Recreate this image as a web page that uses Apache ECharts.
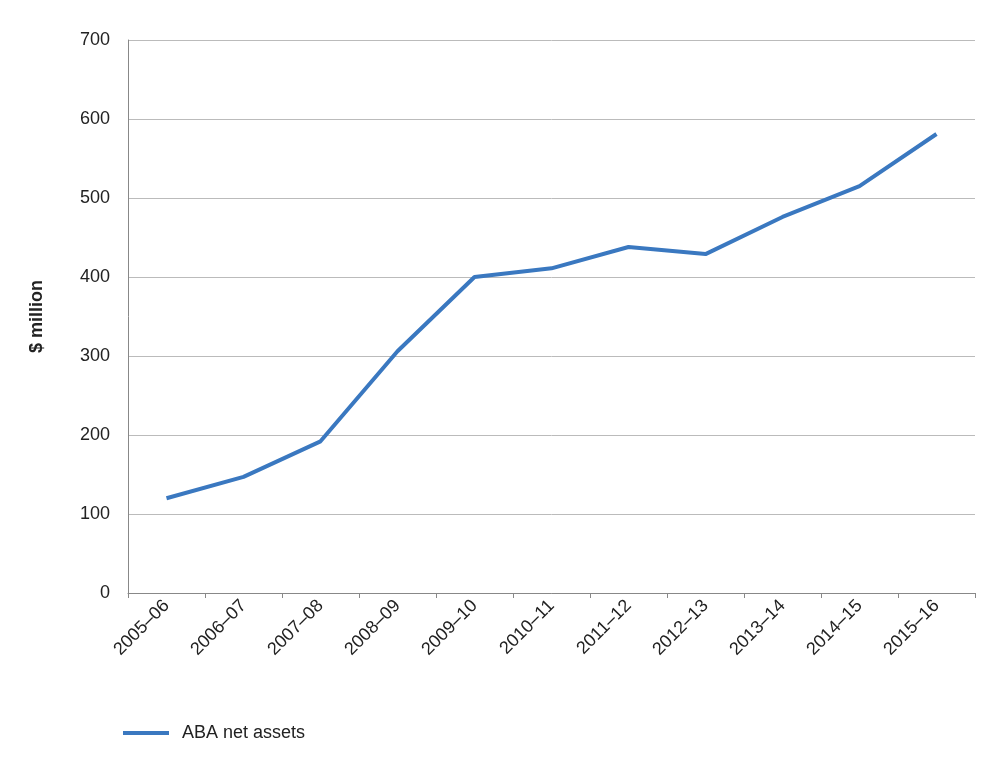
<!DOCTYPE html>
<html><head><meta charset="utf-8">
<script src="https://cdn.jsdelivr.net/npm/echarts@6/dist/echarts.min.js"></script>
<style>html,body{margin:0;padding:0;background:#fff}#c{width:1006px;height:770px}</style>
</head><body><div id="c"></div>
<script>
const categories = ['2005–06','2006–07','2007–08','2008–09','2009–10','2010–11','2011–12','2012–13','2013–14','2014–15','2015–16'];
const netAssets = [120,147,192,306,400,411,438,429,476,515,581];
const seriesName = 'ABA net assets';
const chart = echarts.init(document.getElementById('c'));
chart.setOption({
  animation:false,
  textStyle:{fontFamily:'Liberation Sans, Arial, sans-serif'},
  grid:{left:128,right:31,top:40,bottom:177},
  legend:{left:118,top:719,itemWidth:46,itemHeight:4,icon:'rect',
    textStyle:{fontSize:18,color:'#222',padding:[0,0,0,8]},data:[seriesName]},
  xAxis:{type:'category',data:categories,boundaryGap:true,
    axisLine:{lineStyle:{color:'#888'}},axisTick:{show:true,lineStyle:{color:'#888'}},
    axisLabel:{rotate:45,fontSize:18,color:'#222',interval:0,margin:10}},
  yAxis:{type:'value',min:0,max:700,interval:100,name:'$ million',nameLocation:'middle',nameGap:82,
    nameTextStyle:{fontSize:18,fontWeight:'bold',color:'#222'},
    axisLine:{show:true,lineStyle:{color:'#888'}},
    axisLabel:{fontSize:18,color:'#222',margin:18},
    splitLine:{lineStyle:{color:'#bbb'}}},
  series:[{name:seriesName,type:'line',data:netAssets,symbol:'none',
    lineStyle:{color:'#3a78c0',width:4},itemStyle:{color:'#3a78c0'}}]
});
</script></body></html>
